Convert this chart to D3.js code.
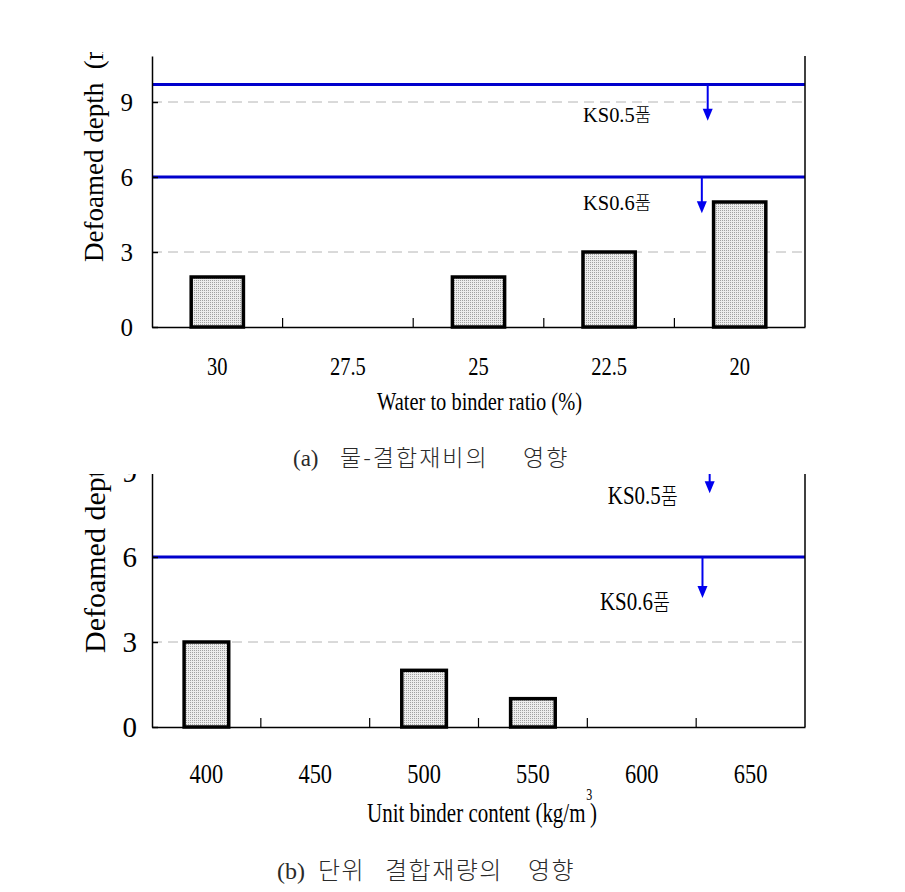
<!DOCTYPE html>
<html><head><meta charset="utf-8">
<script src="https://cdn.jsdelivr.net/npm/d3@7"></script>
<style>body{margin:0;background:#fff}svg{display:block}</style>
</head><body>
<script>
// ---------- data ----------
const wbCategories = ["30", "27.5", "25", "22.5", "20"];
const wbValues = [2, 0, 2, 3, 5];
const ubCategories = ["400", "450", "500", "550", "600", "650"];
const ubValues = [3, 0, 2, 1, 0, 0];
const yTickValues = [0, 3, 6, 9];
const ksNames = ["KS0.5", "KS0.6"];
const ksSuffix = "품";
const ksLimits = [9.7, 6.0];          // allowable defoamed depth lines
const ksArrowDrop = 1.45;             // arrow length (value units)
const yTitle = "Defoamed depth (mm)";
const xTitleA = "Water to binder ratio (%)";
const xTitleB = ["Unit binder content (kg/m", "3", ")"];
const captionA = ["(a)", "물-결합재비의", "영향"];
const captionB = ["(b)", "단위", "결합재량의", "영향"];

// ---------- layout ----------
const W = 905, H = 892;
const svg = d3.select("body").append("svg").attr("width", W).attr("height", H);
const defs = svg.append("defs");
const pat = defs.append("pattern").attr("id", "dots").attr("patternUnits", "userSpaceOnUse")
  .attr("width", 2).attr("height", 2);
pat.append("rect").attr("width", 2).attr("height", 2).attr("fill", "#ececec");
pat.append("rect").attr("width", 1).attr("height", 1).attr("fill", "#a0a0a0");

const SERIF = "'Liberation Serif','Times New Roman',serif";
const KR = "'Noto Sans CJK KR',sans-serif";

function squeeze(sel, ratio) {
  sel.each(function () {
    const L = this.getComputedTextLength();
    this.setAttribute("textLength", L * ratio);
    this.setAttribute("lengthAdjust", "spacingAndGlyphs");
  });
}
function fitTo(sel, len, mode) {
  sel.each(function () {
    this.setAttribute("textLength", len);
    this.setAttribute("lengthAdjust", mode || "spacingAndGlyphs");
  });
}

function panel(cfg, cats, vals) {
  let g = svg.append("g");
  if (cfg.clipTop != null) {
    defs.append("clipPath").attr("id", cfg.id + "clip").append("rect")
      .attr("x", 0).attr("y", cfg.clipTop).attr("width", W).attr("height", H - cfg.clipTop);
    g.attr("clip-path", `url(#${cfg.id}clip)`);
  }
  const x = d3.scaleBand().domain(cats).range([cfg.left, cfg.right]).padding(0);
  const y = d3.scaleLinear().domain([0, cfg.yMax]).range([cfg.bottom, cfg.top]);
  const fx = d3.scaleLinear().domain([0, 1]).range([cfg.left, cfg.right]);

  // grid
  g.append("g").selectAll("line").data(yTickValues.filter(v => v > 0)).join("line")
    .attr("x1", cfg.left).attr("x2", cfg.right)
    .attr("y1", d => y(d)).attr("y2", d => y(d))
    .attr("stroke", "#b4b4b4").attr("stroke-width", 1).attr("stroke-dasharray", "10,6");

  // bars
  const bw = x.bandwidth() * cfg.barFrac;
  g.append("g").selectAll("rect").data(cats.map((c, i) => ({ c, v: vals[i] })).filter(d => d.v > 0))
    .join("rect")
    .attr("x", d => x(d.c) + (x.bandwidth() - bw) / 2)
    .attr("y", d => y(d.v)).attr("width", bw).attr("height", d => y(0) - y(d.v))
    .attr("fill", "url(#dots)").attr("stroke", "#000").attr("stroke-width", 3.5);

  // KS limit lines
  g.append("g").selectAll("line").data(ksLimits).join("line")
    .attr("x1", cfg.left).attr("x2", cfg.right)
    .attr("y1", d => y(d)).attr("y2", d => y(d))
    .attr("stroke", "#0000cc").attr("stroke-width", 3);

  // arrows + labels
  ksLimits.forEach((lim, i) => {
    const ax = fx(cfg.arrowX[i]);
    const y1 = y(lim), y2 = y(lim - ksArrowDrop);
    g.append("line").attr("x1", ax).attr("x2", ax).attr("y1", y1).attr("y2", y2 - 10)
      .attr("stroke", "#0000ee").attr("stroke-width", 2);
    g.append("path").attr("d", `M${ax - 5},${y2 - 12}L${ax + 5},${y2 - 12}L${ax},${y2}Z`)
      .attr("fill", "#0000ee");
    const lx = fx(cfg.labelX[i]), ly = y(cfg.labelY[i]);
    const t = g.append("text").attr("x", lx).attr("y", ly).attr("fill", "#000")
      .attr("font-size", cfg.ksFont);
    t.append("tspan").attr("font-family", SERIF).text(ksNames[i]);
    t.append("tspan").attr("font-family", KR).attr("font-weight", 300)
      .attr("font-size", cfg.ksFont - 3).text(ksSuffix);
    fitTo(t, cfg.ksWidth);
  });

  // y axis
  const ya = g.append("g").attr("transform", `translate(${cfg.left},0)`)
    .call(d3.axisLeft(y).tickValues(yTickValues).tickFormat(d3.format("d"))
      .tickSizeInner(-6).tickSizeOuter(0).tickPadding(cfg.yPad));
  ya.select(".domain").attr("stroke-width", 1.5);
  ya.selectAll(".tick line").attr("stroke-width", 1.5);
  ya.selectAll("text").attr("font-family", SERIF).attr("font-size", cfg.yFont).attr("fill", "#000");

  // x axis
  const xa = g.append("g").attr("transform", `translate(0,${cfg.bottom})`)
    .call(d3.axisBottom(x).tickSize(0).tickPadding(cfg.xPad));
  xa.select(".domain").attr("stroke-width", 1.5);
  xa.selectAll("text").attr("font-family", SERIF).attr("font-size", cfg.xFont).attr("fill", "#000")
    .call(squeeze, cfg.xSqueeze);
  // category boundary ticks
  g.append("g").selectAll("line").data(cats.slice(1)).join("line")
    .attr("x1", d => x(d)).attr("x2", d => x(d))
    .attr("y1", cfg.bottom).attr("y2", cfg.bottom - 9)
    .attr("stroke", "#000").attr("stroke-width", 1.2);
  // right frame
  g.append("line").attr("x1", cfg.right).attr("x2", cfg.right)
    .attr("y1", y.range()[1]).attr("y2", cfg.bottom).attr("stroke", "#000").attr("stroke-width", 1.5);

  // y title (clipped at top like the reference)
  let tg = g.append("g");
  if (cfg.ytClip != null) {
    defs.append("clipPath").attr("id", cfg.id + "yt").append("rect")
      .attr("x", 0).attr("y", cfg.ytClip).attr("width", 150).attr("height", H);
    tg.attr("clip-path", `url(#${cfg.id}yt)`);
  }
  tg.append("text").attr("transform", `translate(${cfg.ytX},${cfg.ytY}) rotate(-90)`)
    .attr("font-family", SERIF).attr("font-size", cfg.ytFont).attr("fill", "#000")
    .attr("xml:space", "preserve").text(yTitle.replace(" (", "  ("));
  return { g, x, y };
}

// (a) panel
panel({
  id: "a", left: 152, right: 805, top: 56, bottom: 327, yMax: 10.84, barFrac: 0.4,
  yPad: 19, yFont: 25, xPad: 30, xFont: 25, xSqueeze: 0.82,
  arrowX: [0.851, 0.842], labelX: [0.66, 0.66], labelY: [8.22, 4.67],
  ksFont: 22, ksWidth: 68, ytX: 103, ytY: 262, ytFont: 27, ytClip: 52
}, wbCategories, wbValues);
svg.append("text").attr("x", 377).attr("y", 410).text(xTitleA)
  .attr("font-family", SERIF).attr("font-size", 25).attr("fill", "#000")
  .call(fitTo, 205);

// (b) panel
panel({
  id: "b", left: 152, right: 805, top: 472, bottom: 727, yMax: 9, barFrac: 0.41, clipTop: 474,
  yPad: 15, yFont: 29, xPad: 36, xFont: 28, xSqueeze: 0.8,
  arrowX: [0.854, 0.843], labelX: [0.698, 0.686], labelY: [7.87, 4.13],
  ksFont: 26, ksWidth: 70, ytX: 105, ytY: 653, ytFont: 30
}, ubCategories, ubValues);
const tb = svg.append("text").attr("x", 367).attr("y", 822)
  .attr("font-family", SERIF).attr("font-size", 28).attr("fill", "#000");
tb.append("tspan").text(xTitleB[0]);
tb.append("tspan").attr("font-size", 16).attr("dy", -22).attr("dx", 1).text(xTitleB[1]);
tb.append("tspan").attr("dy", 22).attr("dx", -3).text(xTitleB[2]);
fitTo(tb, 230);

// captions
function caption(parts, xs, spacing, yb, fs) {
  parts.forEach((p, i) => {
    svg.append("text").attr("x", xs[i]).attr("y", yb).attr("fill", "#2a2a2a")
      .attr("font-size", fs).text(p)
      .attr("font-family", i === 0 ? SERIF : KR).attr("font-weight", i === 0 ? 400 : 300)
      .attr("letter-spacing", i === 0 ? 0 : spacing);
  });
}
caption(captionA, [293, 340, 523], 2, 466, 23);
caption(captionB, [277, 318, 385, 528], 1.5, 879, 24);
</script>
</body></html>
